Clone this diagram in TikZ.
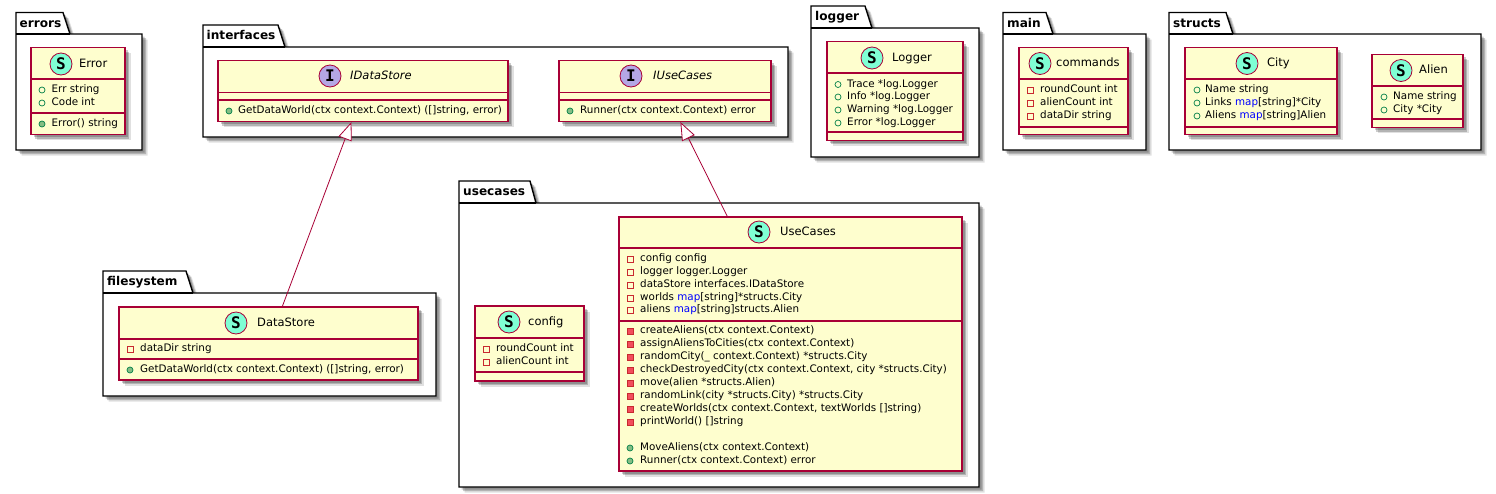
\documentclass[tikz,border=0pt]{standalone}
\usepackage{fontspec}
\setmainfont{DejaVu Sans}
\newfontfamily\spotfont{DejaVu Sans Mono}
\usetikzlibrary{arrows.meta}
\usetikzlibrary{shadows}

\definecolor{umlred}{HTML}{A80036}
\definecolor{umlyellow}{HTML}{FEFECE}
\definecolor{structspot}{HTML}{7FFFD4}
\definecolor{ifacespot}{HTML}{B4A7E5}
\definecolor{pubdark}{HTML}{038048}
\definecolor{publight}{HTML}{84BE84}
\definecolor{privdark}{HTML}{C82930}
\definecolor{privlight}{HTML}{F24D5C}

\tikzset{
	softshadow/.style={
		drop shadow={shadow xshift=2.5pt, shadow yshift=-2.5pt, opacity=.2, fill=black},
		drop shadow={shadow xshift=4pt, shadow yshift=-4pt, opacity=.2, fill=black},
		drop shadow={shadow xshift=5.5pt, shadow yshift=-5.5pt, opacity=.12, fill=black}},
	package/.style={draw=black, fill=white, line width=1.4pt, line join=miter, softshadow},
	pkglabel/.style={anchor=west, inner sep=0pt, font=\fontsize{12.1}{14}\selectfont\bfseries, text height=10pt, text depth=3pt},
	classbox/.style={draw=umlred, fill=umlyellow, line width=1.1pt, rectangle, inner sep=0pt, softshadow},
	classline/.style={draw=umlred, line width=1.1pt},
	spot/.style={circle, draw=umlred, line width=.8pt, minimum size=22pt, inner sep=0pt, font=\spotfont\fontsize{16}{16}\selectfont\bfseries},
	classtitle/.style={anchor=west, inner sep=0pt, font=\fontsize{11.5}{13}\selectfont, text height=9pt, text depth=2.5pt},
	member/.style={anchor=west, inner sep=0pt, font=\fontsize{10.35}{12}\selectfont, text height=8pt, text depth=2.5pt},
	pubfield/.style={circle, draw=pubdark, line width=.7pt, minimum size=6pt, inner sep=0pt},
	pubmethod/.style={circle, draw=pubdark, fill=publight, line width=.7pt, minimum size=6pt, inner sep=0pt},
	privfield/.style={rectangle, draw=privdark, line width=.7pt, minimum size=6pt, inner sep=0pt},
	privmethod/.style={rectangle, draw=privdark, fill=privlight, line width=.7pt, minimum size=6pt, inner sep=0pt},
	implements/.style={draw=umlred, line width=.8pt, -{Triangle[open, fill=white, length=18pt, width=14pt]}}
}

% one folder: left, tab top, slant start, tab right, body top, right, bottom
\newcommand{\pkgshape}[7]{
	\draw[package] (#1,#2) -- (#3,#2) -- (#4,#5) -- (#6,#5) -- (#6,#7) -- (#1,#7) -- cycle;
	\draw[draw=black, line width=1.4pt] (#1,#5) -- (#4,#5);
}
% rows of one class: prefix, icon x, text x, list of icon/y/text
\newcommand{\memberrows}[4]{
	\foreach \icon/\rowy/\rowtext [count=\i] in {#4} {
		\node[\icon] (#1icon\i) at (#2,\rowy) {};
		\node[member] (#1row\i) at (#3,\rowy) {\rowtext};
	}
}
\newcommand{\mapword}{\textcolor{blue}{map}}

\begin{document}
\begin{tikzpicture}[x=1pt, y=-1pt]
	\useasboundingbox (0,0) rectangle (1496,493);
	\fill[white] (0,0) rectangle (1496,493);

	% errors
	\pkgshape{16}{12.5}{63}{70}{34}{142}{150}
	\node[pkglabel] (errorspkg) at (19.5,23.5) {errors};
	\node[classbox, minimum width=94pt, minimum height=87pt] (error) at (78,91) {};
	\draw[classline] (31,79) -- (125,79);
	\draw[classline] (31,113) -- (125,113);
	\node[spot, fill=structspot] (errorspot) at (61,64) {S};
	\node[classtitle] (errortitle) at (79,64) {Error};
	\memberrows{error}{42}{51.5}{pubfield/90/{Err string}, pubfield/103/{Code int}, pubmethod/124/{Error() string}}

	% interfaces
	\pkgshape{203}{25}{278}{285}{47}{788}{137}
	\node[pkglabel] (interfacespkg) at (206.5,36) {interfaces};
	\node[classbox, minimum width=290pt, minimum height=61pt] (idatastore) at (363,91) {};
	\draw[classline] (218,92.5) -- (508,92.5);
	\draw[classline] (218,100) -- (508,100);
	\node[spot, fill=ifacespot] (idatastorespot) at (330,76) {I};
	\node[classtitle, font=\fontsize{11.5}{13}\selectfont\itshape] (idatastoretitle) at (350,76) {IDataStore};
	\memberrows{idatastore}{229}{238}{pubmethod/111/{GetDataWorld(ctx context.Context) ([]string, error)}}

	\node[classbox, minimum width=212pt, minimum height=61pt] (iusecases) at (665,91) {};
	\draw[classline] (559,92.5) -- (771,92.5);
	\draw[classline] (559,100) -- (771,100);
	\node[spot, fill=ifacespot] (iusecasesspot) at (631,76) {I};
	\node[classtitle, font=\fontsize{11.5}{13}\selectfont\itshape] (iusecasestitle) at (653,76) {IUseCases};
	\memberrows{iusecases}{570}{580}{pubmethod/111/{Runner(ctx context.Context) error}}

	% logger
	\pkgshape{811}{6}{865}{872}{28}{979}{157}
	\node[pkglabel] (loggerpkg) at (815,17) {logger};
	\node[classbox, minimum width=136pt, minimum height=98.5pt] (logger) at (895,91) {};
	\draw[classline] (827,73) -- (963,73);
	\draw[classline] (827,132) -- (963,132);
	\node[spot, fill=structspot] (loggerspot) at (872,58) {S};
	\node[classtitle] (loggertitle) at (892,58) {Logger};
	\memberrows{logger}{838}{847}{pubfield/84.5/{Trace *log.Logger}, pubfield/97/{Info *log.Logger}, pubfield/110/{Warning *log.Logger}, pubfield/123/{Error *log.Logger}}

	% main
	\pkgshape{1003}{12.5}{1046}{1053}{34}{1146}{150}
	\node[pkglabel] (mainpkg) at (1007,23.5) {main};
	\node[classbox, minimum width=109pt, minimum height=87pt] (commands) at (1073.5,91) {};
	\draw[classline] (1019,79) -- (1128,79);
	\draw[classline] (1019,127) -- (1128,127);
	\node[spot, fill=structspot] (commandsspot) at (1040,63.5) {S};
	\node[classtitle] (commandstitle) at (1056,63.5) {commands};
	\memberrows{commands}{1030}{1040}{privfield/90/{roundCount int}, privfield/103/{alienCount int}, privfield/116/{dataDir string}}

	% structs
	\pkgshape{1169}{12.5}{1226}{1233}{34}{1481}{150}
	\node[pkglabel] (structspkg) at (1173,23.5) {structs};
	\node[classbox, minimum width=152pt, minimum height=87pt] (city) at (1261,91) {};
	\draw[classline] (1185,79) -- (1337,79);
	\draw[classline] (1185,127) -- (1337,127);
	\node[spot, fill=structspot] (cityspot) at (1247,63.5) {S};
	\node[classtitle] (citytitle) at (1267,63.5) {City};
	\memberrows{city}{1197}{1205}{pubfield/90/{Name string}, pubfield/103/{Links \mapword[string]*City}, pubfield/116/{Aliens \mapword[string]Alien}}
	\node[classbox, minimum width=91pt, minimum height=73pt] (alien) at (1417.5,91) {};
	\draw[classline] (1372,86) -- (1463,86);
	\draw[classline] (1372,119) -- (1463,119);
	\node[spot, fill=structspot] (alienspot) at (1401,70.5) {S};
	\node[classtitle] (alientitle) at (1419,70.5) {Alien};
	\memberrows{alien}{1384}{1393}{pubfield/97/{Name string}, pubfield/110/{City *City}}

	% filesystem
	\pkgshape{103}{271}{186}{193}{293}{436}{396}
	\node[pkglabel] (filesystempkg) at (107,282) {filesystem};
	\node[classbox, minimum width=299pt, minimum height=73pt] (datastore) at (268.5,343.5) {};
	\draw[classline] (119,339) -- (418,339);
	\draw[classline] (119,359) -- (418,359);
	\node[spot, fill=structspot] (datastorespot) at (236,323) {S};
	\node[classtitle] (datastoretitle) at (257,323) {DataStore};
	\memberrows{datastore}{130}{140}{privfield/349/{dataDir string}, pubmethod/370/{GetDataWorld(ctx context.Context) ([]string, error)}}

	% usecases
	\pkgshape{459}{181}{530}{536}{203}{979}{487}
	\node[pkglabel] (usecasespkg) at (463,192) {usecases};
	\node[classbox, minimum width=109pt, minimum height=75pt] (config) at (529.5,343.5) {};
	\draw[classline] (475,338) -- (584,338);
	\draw[classline] (475,372) -- (584,372);
	\node[spot, fill=structspot] (configspot) at (509,322) {S};
	\node[classtitle] (configtitle) at (528,322) {config};
	\memberrows{config}{486}{496}{privfield/349/{roundCount int}, privfield/362/{alienCount int}}
	\node[classbox, minimum width=343pt, minimum height=254pt] (usecases) at (790.5,344) {};
	\draw[classline] (619,248) -- (962,248);
	\draw[classline] (619,321) -- (962,321);
	\node[spot, fill=structspot] (usecasesspot) at (759,232) {S};
	\node[classtitle] (usecasestitle) at (780,232) {UseCases};
	\memberrows{usecasesattr}{630}{640}{privfield/259/{config config}, privfield/272/{logger logger.Logger}, privfield/285/{dataStore interfaces.IDataStore}, privfield/298/{worlds \mapword[string]*structs.City}, privfield/310/{aliens \mapword[string]structs.Alien}}
	\memberrows{usecasesmeth}{630}{640}{privmethod/331/{createAliens(ctx context.Context)}, privmethod/344/{assignAliensToCities(ctx context.Context)}, privmethod/357/{randomCity(\_ context.Context) *structs.City}, privmethod/370/{checkDestroyedCity(ctx context.Context, city *structs.City)}, privmethod/383/{move(alien *structs.Alien)}, privmethod/396/{randomLink(city *structs.City) *structs.City}, privmethod/409/{createWorlds(ctx context.Context, textWorlds []string)}, privmethod/422/{printWorld() []string}, pubmethod/448/{MoveAliens(ctx context.Context)}, pubmethod/461/{Runner(ctx context.Context) error}}

	\draw[implements] (datastore) -- (idatastore);
	\draw[implements] (usecases) -- (iusecases);
\end{tikzpicture}
\end{document}
